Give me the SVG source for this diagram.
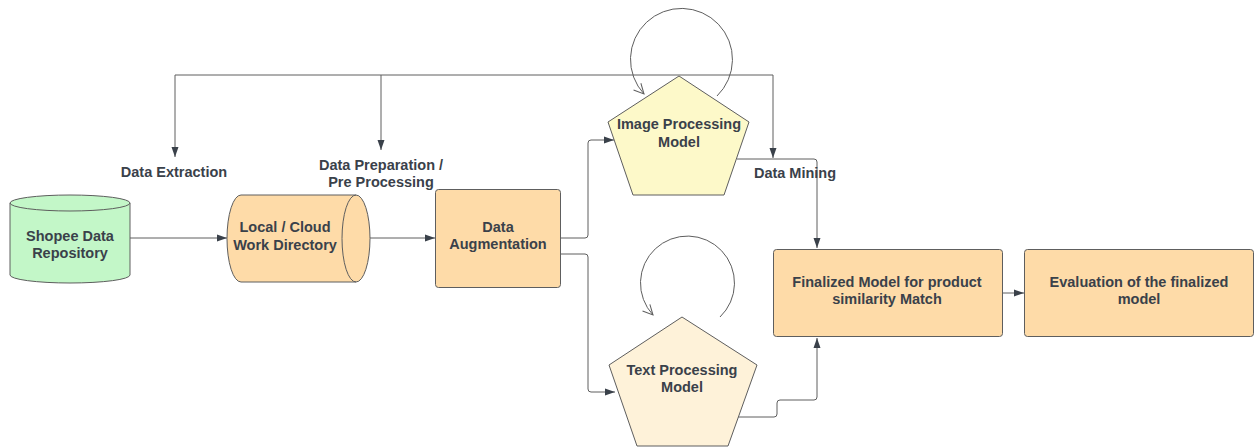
<svg xmlns="http://www.w3.org/2000/svg" width="1258" height="448" viewBox="0 0 1258 448">
<defs>
<style>
.shape{stroke:#5e5e5e;stroke-width:1}
.t{font-family:"Liberation Sans",Arial,sans-serif;font-weight:bold;font-size:14.5px;fill:#3a414a;text-anchor:middle}
.c{fill:none;stroke:#5e5e5e;stroke-width:1}
</style>
<marker id="a" viewBox="0 0 10 10" refX="10" refY="5" markerWidth="10" markerHeight="10" markerUnits="userSpaceOnUse" orient="auto">
<path d="M0,1.5 L10,5 L0,8.5 Z" fill="#3a414a"/>
</marker>
<marker id="o" viewBox="0 0 12 12" refX="11" refY="6" markerWidth="12" markerHeight="12" markerUnits="userSpaceOnUse" orient="auto">
<path d="M1,1 L11,6 L1,11" fill="none" stroke="#5e5e5e" stroke-width="1"/>
</marker>
</defs>
<rect width="1258" height="448" fill="#ffffff"/>
<g id="connectors">
<path class="c" d="M130,238 H227" marker-end="url(#a)"/>
<path class="c" d="M370,238 H435" marker-end="url(#a)"/>
<path class="c" d="M175,75 H773 V158" marker-end="url(#a)"/>
<path class="c" d="M175,75 V157" marker-end="url(#a)"/>
<path class="c" d="M381,75 V150" marker-end="url(#a)"/>
<path class="c" d="M560,238 H585 Q588,238 588,235 V143 Q588,140 591,140 H614" marker-end="url(#a)"/>
<path class="c" d="M560,254 H585 Q588,254 588,257 V389 Q588,392 591,392 H615" marker-end="url(#a)"/>
<path class="c" d="M737,159 H814 Q817,159 817,162 V248" marker-end="url(#a)"/>
<path class="c" d="M738,417 H774 Q777,417 777,414 V403 Q777,400 780,400 H814 Q817,400 817,397 V338" marker-end="url(#a)"/>
<path class="c" d="M1002,293 H1024" marker-end="url(#a)"/>
<path class="c" d="M717,96 A51,51 0 1 0 644,94" marker-end="url(#o)"/>
<path class="c" d="M720,317 A47,47 0 1 0 653,315" marker-end="url(#o)"/>
</g>
<g id="shopee">
<path class="shape" fill="#c3f7c8" d="M10,203 A60,8 0 0 1 130,203 V275 A60,8 0 0 1 10,275 Z"/>
<path class="shape" fill="none" d="M10,203 A60,8 0 0 0 130,203"/>
<text class="t" x="70" y="241">Shopee Data</text>
<text class="t" x="70" y="258">Repository</text>
</g>
<g id="local">
<path class="shape" fill="#fedba8" d="M241,195 H356 A14,43.5 0 0 1 356,282 H241 A14,43.5 0 0 1 241,195 Z"/>
<path class="shape" fill="none" d="M356,195 A14,43.5 0 0 0 356,282"/>
<text class="t" x="285" y="232">Local / Cloud</text>
<text class="t" x="285" y="250">Work Directory</text>
</g>
<g id="augmentation">
<rect class="shape" fill="#fedba8" x="435.5" y="189.5" width="125" height="98" rx="3"/>
<text class="t" x="498" y="232">Data</text>
<text class="t" x="498" y="249">Augmentation</text>
</g>
<g id="image">
<path class="shape" fill="#fdf9c9" stroke-linejoin="round" d="M679,76 L749,122 L724,195 L633,195 L608,122 Z"/>
<text class="t" x="679" y="129">Image Processing</text>
<text class="t" x="679" y="147">Model</text>
</g>
<g id="text">
<path class="shape" fill="#fef2d9" stroke-linejoin="round" d="M682,317 L757,365 L728,446 L637,446 L609,365 Z"/>
<text class="t" x="682" y="375">Text Processing</text>
<text class="t" x="682" y="392">Model</text>
</g>
<g id="finalized">
<rect class="shape" fill="#fedba8" x="773.5" y="249.5" width="229" height="87" rx="3"/>
<text class="t" x="887" y="287">Finalized Model for product</text>
<text class="t" x="887" y="304">similarity Match</text>
</g>
<g id="evaluation">
<rect class="shape" fill="#fedba8" x="1024.5" y="249.5" width="229" height="87" rx="3"/>
<text class="t" x="1139" y="287">Evaluation of the finalized</text>
<text class="t" x="1139" y="304">model</text>
</g>
<g id="labels">
<text class="t" x="174" y="177">Data Extraction</text>
<text class="t" x="381" y="170">Data Preparation /</text>
<text class="t" x="381" y="187">Pre Processing</text>
<text class="t" x="795" y="178">Data Mining</text>
</g>
</svg>
